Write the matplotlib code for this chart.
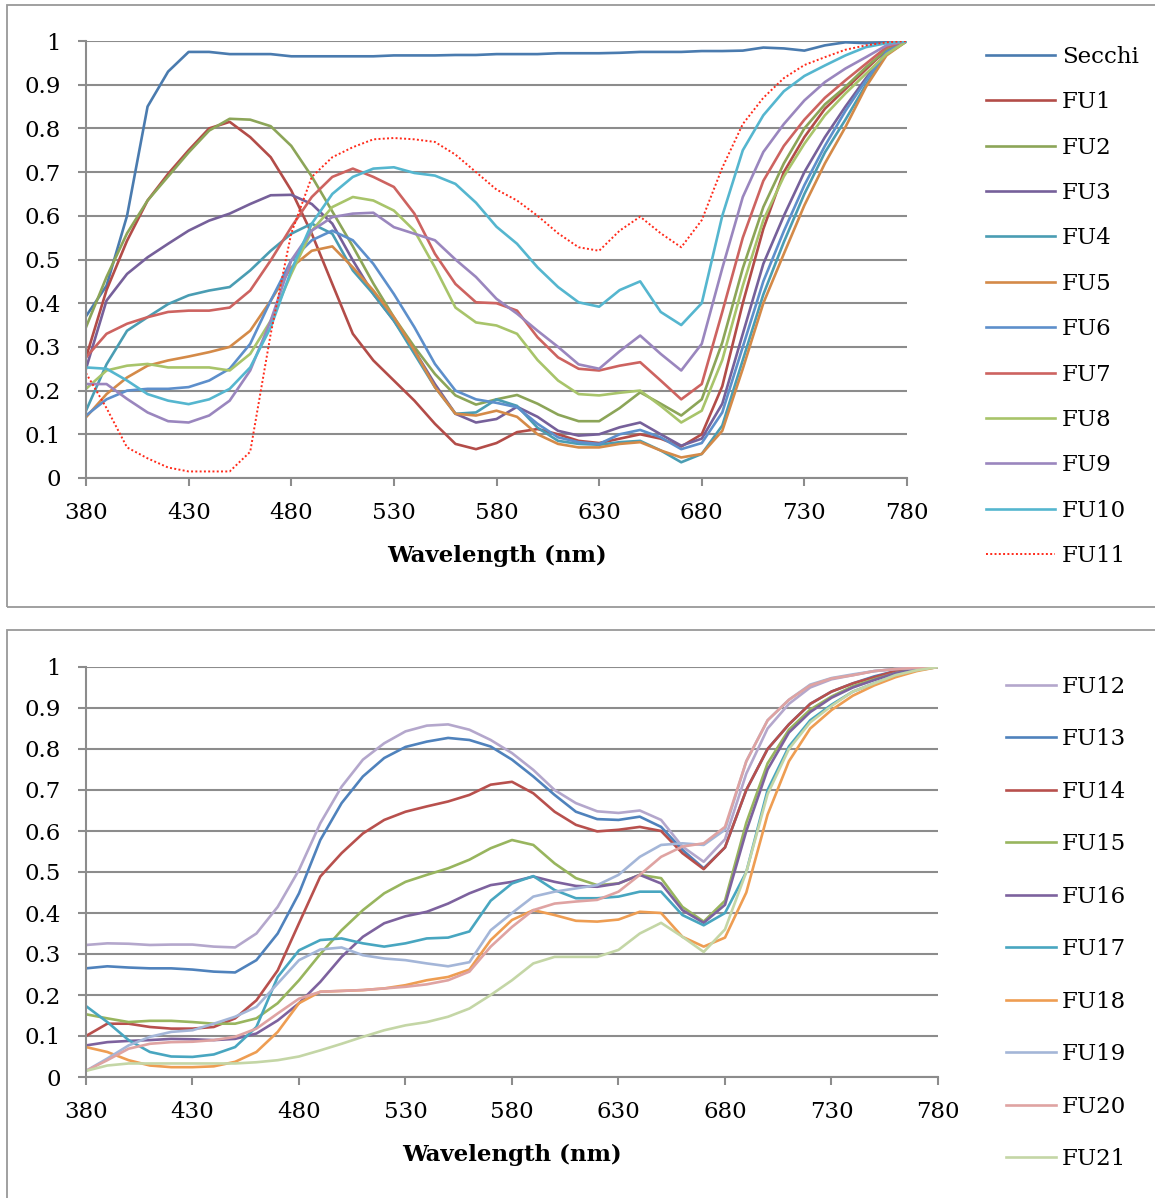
import matplotlib
matplotlib.use('Agg')
import matplotlib.pyplot as plt
from matplotlib.patches import Rectangle

plt.rcParams['font.family'] = ['DejaVu Serif']

wl = list(range(380, 790, 10))

# top chart
secchi = [.37, .44, .60, .85, .93, .975, .975, .97, .97, .97,
          .965, .965, .965, .965, .965, .967, .967, .967, .968, .968,
          .97, .97, .97, .972, .972, .972, .973, .975, .975, .975,
          .977, .977, .978, .985, .983, .978, .99, .997, .995, .997, 1.0]
fu1 = [.276, .43, .543, .635, .696, .75, .80, .815, .78, .734,
       .658, .559, .444, .33, .269, .223, .177, .124, .078, .066,
       .08, .105, .112, .10, .085, .08, .09, .10, .09, .072,
       .10, .21, .40, .57, .70, .78, .845, .89, .935, .98, 1.0]
fu2 = [.345, .46, .56, .635, .69, .745, .795, .822, .82, .805,
       .76, .69, .61, .53, .445, .368, .30, .238, .189, .168,
       .18, .19, .17, .145, .13, .13, .16, .196, .17, .143,
       .18, .31, .48, .62, .72, .80, .855, .895, .94, .98, 1.0]
fu3 = [.25, .406, .467, .505, .536, .566, .589, .605, .627, .647,
       .648, .627, .582, .498, .421, .36, .292, .215, .147, .127,
       .135, .163, .14, .108, .097, .10, .116, .127, .10, .074,
       .09, .17, .33, .49, .60, .70, .78, .85, .915, .975, 1.0]
fu4 = [.154, .26, .337, .368, .398, .418, .429, .437, .475, .52,
       .559, .582, .559, .475, .421, .36, .284, .208, .147, .15,
       .18, .165, .115, .085, .078, .076, .082, .085, .063, .036,
       .055, .12, .27, .42, .54, .65, .745, .82, .90, .97, 1.0]
fu5 = [.139, .192, .23, .257, .269, .278, .288, .30, .337, .406,
       .482, .52, .53, .482, .429, .368, .292, .208, .147, .143,
       .154, .14, .10, .078, .07, .07, .078, .082, .063, .047,
       .055, .108, .25, .40, .513, .624, .72, .803, .895, .967, 1.0]
fu6 = [.143, .18, .20, .204, .204, .208, .223, .25, .307, .406,
       .498, .544, .566, .544, .49, .421, .345, .261, .20, .18,
       .172, .162, .124, .093, .082, .078, .10, .11, .093, .066,
       .08, .15, .30, .45, .565, .67, .76, .84, .91, .975, 1.0]
fu7 = [.276, .33, .353, .368, .38, .383, .383, .39, .429, .498,
       .574, .643, .689, .708, .689, .666, .605, .513, .444, .402,
       .40, .383, .322, .276, .25, .246, .257, .265, .223, .18,
       .215, .38, .55, .68, .76, .82, .87, .91, .948, .986, 1.0]
fu8 = [.204, .246, .257, .261, .253, .253, .253, .246, .284, .36,
       .467, .566, .62, .643, .635, .612, .566, .482, .39, .356,
       .349, .33, .27, .223, .192, .189, .195, .20, .165, .127,
       .154, .27, .44, .59, .69, .765, .83, .88, .925, .97, 1.0]
fu9 = [.215, .215, .181, .15, .13, .127, .143, .177, .246, .36,
       .498, .566, .597, .605, .607, .574, .559, .544, .50, .46,
       .41, .376, .337, .30, .26, .25, .29, .326, .284, .246,
       .307, .48, .643, .746, .81, .864, .906, .937, .963, .99, 1.0]
fu10 = [.253, .25, .223, .192, .177, .169, .18, .204, .253, .345,
        .475, .582, .65, .689, .708, .711, .698, .692, .673, .63,
        .575, .536, .482, .437, .402, .392, .43, .45, .38, .35,
        .40, .60, .75, .83, .885, .92, .944, .967, .986, .995, 1.0]
fu11 = [.24, .16, .07, .045, .024, .015, .015, .015, .06, .33,
        .56, .689, .734, .757, .775, .778, .775, .769, .74, .70,
        .66, .635, .60, .56, .528, .52, .566, .598, .56, .528,
        .59, .71, .81, .87, .915, .945, .963, .98, .99, .997, 1.0]

# bottom chart
fu12 = [.322, .326, .325, .322, .323, .323, .318, .316, .35, .415,
        .505, .619, .708, .774, .814, .843, .857, .86, .847, .822,
        .79, .749, .70, .668, .648, .644, .65, .627, .562, .525,
        .58, .74, .85, .91, .95, .97, .98, .99, .995, .998, 1.0]
fu13 = [.265, .27, .267, .265, .265, .262, .257, .255, .285, .35,
        .448, .578, .668, .733, .778, .805, .818, .827, .822, .806,
        .774, .733, .688, .647, .629, .627, .635, .61, .554, .509,
        .56, .70, .80, .86, .91, .94, .96, .977, .99, .997, 1.0]
fu14 = [.10, .13, .13, .122, .118, .118, .122, .143, .187, .26,
        .375, .489, .546, .594, .627, .647, .66, .672, .688, .713,
        .72, .692, .647, .615, .599, .603, .61, .60, .546, .507,
        .56, .70, .80, .86, .91, .94, .96, .975, .99, .997, 1.0]
fu15 = [.153, .143, .134, .137, .137, .134, .13, .13, .143, .18,
        .236, .30, .358, .407, .448, .476, .493, .509, .53, .558,
        .578, .566, .521, .485, .468, .472, .493, .485, .415, .379,
        .43, .62, .765, .847, .896, .928, .953, .97, .985, .995, 1.0]
fu16 = [.077, .085, .088, .09, .093, .092, .09, .093, .106, .138,
        .18, .232, .293, .342, .375, .392, .403, .423, .448, .468,
        .476, .489, .476, .466, .464, .472, .493, .472, .407, .376,
        .42, .60, .75, .84, .89, .925, .95, .968, .985, .995, 1.0]
fu17 = [.173, .134, .09, .061, .05, .049, .055, .073, .122, .244,
        .309, .334, .338, .326, .318, .326, .338, .34, .355, .43,
        .472, .49, .456, .436, .436, .44, .452, .452, .395, .37,
        .40, .50, .70, .806, .87, .908, .94, .96, .98, .992, 1.0]
fu18 = [.073, .061, .041, .028, .024, .024, .026, .037, .061, .11,
        .18, .208, .21, .212, .216, .224, .236, .244, .262, .334,
        .383, .407, .395, .381, .379, .384, .403, .40, .342, .318,
        .34, .45, .64, .77, .85, .895, .93, .955, .975, .99, 1.0]
fu19 = [.015, .045, .077, .098, .11, .114, .13, .147, .171, .228,
        .285, .311, .316, .297, .289, .285, .277, .27, .28, .358,
        .40, .44, .452, .46, .468, .493, .537, .566, .57, .566,
        .603, .77, .87, .92, .957, .973, .982, .99, .995, .998, 1.0]
fu20 = [.015, .041, .069, .081, .085, .086, .09, .098, .118, .155,
        .191, .208, .21, .212, .216, .22, .226, .236, .257, .318,
        .366, .407, .423, .428, .432, .452, .493, .537, .562, .57,
        .61, .77, .87, .92, .955, .972, .98, .99, .995, .998, 1.0]
fu21 = [.015, .028, .033, .033, .033, .033, .033, .033, .036, .041,
        .05, .065, .081, .098, .114, .126, .134, .147, .167, .20,
        .236, .277, .293, .293, .293, .31, .35, .376, .342, .305,
        .36, .50, .69, .80, .865, .905, .94, .96, .98, .992, 1.0]

top_names = ['Secchi', 'FU1', 'FU2', 'FU3', 'FU4', 'FU5', 'FU6', 'FU7', 'FU8', 'FU9', 'FU10', 'FU11']
top_data = [secchi, fu1, fu2, fu3, fu4, fu5, fu6, fu7, fu8, fu9, fu10, fu11]
top_colors = ['#4A7BAF', '#B34C48', '#8CA558', '#76609A', '#4A9DB3', '#D48A48',
              '#5D8FCB', '#CD6360', '#A8C46A', '#9A86BE', '#55B6CF', '#FF2A1A']

bot_names = ['FU12', 'FU13', 'FU14', 'FU15', 'FU16', 'FU17', 'FU18', 'FU19', 'FU20', 'FU21']
bot_data = [fu12, fu13, fu14, fu15, fu16, fu17, fu18, fu19, fu20, fu21]
bot_colors = ['#B4A7CC', '#4F82BC', '#B8504D', '#98B55E', '#7D629E', '#48A6C0',
              '#EE9D52', '#A4B6D8', '#DFA3A2', '#C4D6A6']

W, H = 1155, 1198
fig = plt.figure(figsize=(W / 100, H / 100), dpi=100)
gray = '#8C8C8C'
fs = 16.5

# chart frames
fig.add_artist(Rectangle((7 / W, 1 - 607 / H), 1.0, (607 - 5) / H, transform=fig.transFigure,
                         fill=False, edgecolor='#999999', lw=1.3))
fig.add_artist(Rectangle((7 / W, -0.01), 1.0, 0.01 + (1198 - 630) / H, transform=fig.transFigure,
                         fill=False, edgecolor='#999999', lw=1.3))


def style(ax):
    ax.set_xlim(380, 780)
    ax.set_ylim(0, 1)
    ax.set_xticks(range(380, 781, 50))
    ax.set_yticks([i / 10 for i in range(11)])
    ax.set_yticklabels(['0', '0.1', '0.2', '0.3', '0.4', '0.5', '0.6', '0.7', '0.8', '0.9', '1'])
    ax.grid(axis='y', color=gray, lw=1.5)
    ax.set_axisbelow(True)
    for s in ['top', 'right']:
        ax.spines[s].set_visible(False)
    for s in ['left', 'bottom']:
        ax.spines[s].set_color(gray)
        ax.spines[s].set_linewidth(1.5)
    ax.tick_params(axis='both', color=gray, width=1.5, length=6, labelsize=fs, direction='out')
    ax.tick_params(axis='y', pad=12)
    ax.tick_params(axis='x', pad=11)
    ax.set_xlabel('Wavelength (nm)', fontsize=fs, fontweight='bold', labelpad=15)


ax1 = fig.add_axes([86 / W, 1 - 478 / H, (907 - 86) / W, (478 - 41) / H])
style(ax1)
for name, vals, c in zip(top_names, top_data, top_colors):
    if name == 'FU11':
        ax1.plot(wl, vals, color=c, lw=1.4, ls=(0, (1, 1.2)), label=name)
    else:
        ax1.plot(wl, vals, color=c, lw=1.9, label=name, solid_joinstyle='round')
ax1.legend(loc='upper left', bbox_to_anchor=(986 / W, 1 - 46 / H), bbox_transform=fig.transFigure,
           frameon=False, fontsize=fs, handlelength=3.0, handletextpad=0.3,
           labelspacing=1.02, borderpad=0, borderaxespad=0)

ax2 = fig.add_axes([86 / W, 1 - 1077 / H, (938 - 86) / W, (1077 - 667) / H])
style(ax2)
for name, vals, c in zip(bot_names, bot_data, bot_colors):
    ax2.plot(wl, vals, color=c, lw=1.9, label=name, solid_joinstyle='round')
ax2.legend(loc='upper left', bbox_to_anchor=(1006 / W, 1 - 676 / H), bbox_transform=fig.transFigure,
           frameon=False, fontsize=fs, handlelength=2.2, handletextpad=0.25,
           labelspacing=1.33, borderpad=0, borderaxespad=0)

fig.savefig('out.png', dpi=100)
